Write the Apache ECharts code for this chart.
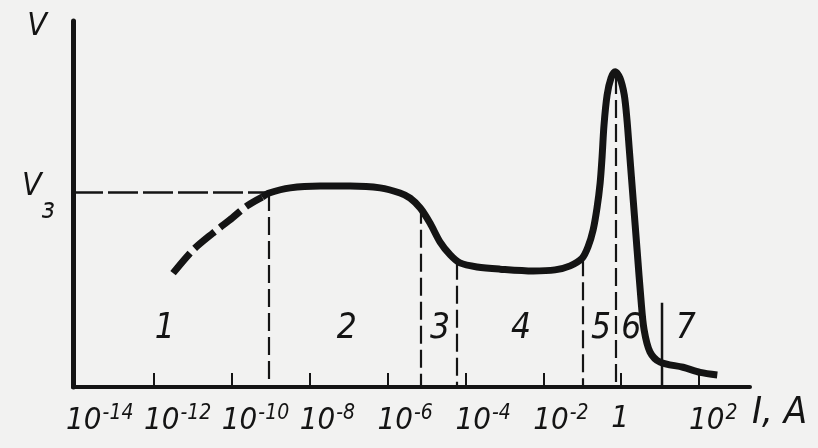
<!DOCTYPE html>
<html>
<head>
<meta charset="utf-8">
<script src="https://cdn.jsdelivr.net/npm/echarts@6/dist/echarts.min.js"></script>
<style>
html,body{margin:0;padding:0;background:#f2f2f1;}
#chart{width:818px;height:448px;}
</style>
</head>
<body>
<div id="chart"></div>
<script>
// x values are log10(I / A); y values are voltage in arbitrary units (0..100)
var xTickValues = [-12, -10, -8, -6, -4, -2, 0, 2];
var xLabelValues = [-14, -12, -10, -8, -6, -4, -2, 0, 2];
var vIgnition = 53.3;

// dashed (uncertain) low-current part of the curve
var curveDashedX = [-11.51, -11.00, -10.48, -9.99, -9.61, -9.22];
var curveDashedY = [31.1, 37.4, 42.1, 46.2, 49.5, 51.9];

// solid part of the curve
var curveX = [-9.22, -9.04, -8.50, -7.73, -6.96, -6.19, -5.68, -5.42, -5.16, -4.91, -4.65, -4.39, -4.14, -3.70, -3.11, -2.26, -1.70, -1.31, -1.00, -0.85, -0.72, -0.62, -0.54, -0.49, -0.44, -0.36, -0.26, -0.155, -0.03, 0.08, 0.15, 0.21, 0.31, 0.41, 0.51, 0.59, 0.74, 1.00, 1.59, 2.03, 2.47];
var curveY = [51.9, 53.0, 54.4, 54.9, 54.9, 54.4, 53.0, 51.6, 48.9, 44.8, 39.6, 36.1, 33.9, 32.8, 32.2, 31.7, 32.0, 33.1, 35.2, 38.3, 42.9, 48.9, 55.7, 62.8, 71.6, 79.8, 84.4, 86.1, 84.4, 79.8, 73.0, 64.8, 51.1, 37.4, 23.8, 15.6, 9.6, 6.8, 5.4, 4.0, 3.3];

// region boundaries (dashed), x and top value
var boundaryX = [-9.04, -5.14, -4.21, -0.98, -0.15];
var boundaryTop = [53.0, 49.5, 34.2, 35.2, 85.0];
// boundary of region 7 (solid short line)
var boundary7X = 1.05;
var boundary7Top = 23.0;

// region numbers
var regionNames = ['1', '2', '3', '4', '5', '6', '7'];
var regionX = [-11.72, -7.05, -4.65, -2.57, -0.52, 0.26, 1.66];
var regionY = [15.6, 15.6, 15.6, 15.6, 15.6, 15.6, 15.6];

var FONT = '"DejaVu Sans Condensed", "DejaVu Sans", sans-serif';
var INK = '#141414';

function zip(xs, ys) { return xs.map(function (x, i) { return [x, ys[i]]; }); }

var boundaryLines = boundaryX.map(function (x, i) {
  return [{ coord: [x, boundaryTop[i]] }, { coord: [x, 0] }];
});

var chart = echarts.init(document.getElementById('chart'));
chart.setOption({
  backgroundColor: '#f2f2f1',
  animation: false,
  grid: { left: 73, right: 68, top: 21, bottom: 61 },
  xAxis: {
    type: 'value', min: -14.08, max: 3.31,
    name: 'I, A', nameLocation: 'end', nameGap: 2,
    nameTextStyle: { fontFamily: FONT, fontStyle: 'italic', fontSize: 38, color: INK, align: 'left', verticalAlign: 'top', padding: [7, 0, 0, 0] },
    axisLine: { onZero: false, lineStyle: { color: INK, width: 4 } },
    axisTick: { show: true, inside: true, length: 14, customValues: xTickValues, lineStyle: { color: INK, width: 2 } },
    splitLine: { show: false },
    axisLabel: {
      customValues: xLabelValues, margin: 16, color: INK,
      showMinLabel: true, showMaxLabel: true, hideOverlap: false,
      align: 'left', padding: [0, 0, 0, -10],
      formatter: function (v) {
        var n = Math.round(v);
        if (n === 0) return '{b|1}';
        return '{b|10}{s|' + (n < 0 ? '-' + (-n) : n) + '}';
      },
      rich: {
        b: { fontFamily: FONT, fontStyle: 'italic', fontSize: 31, color: INK },
        s: { fontFamily: FONT, fontStyle: 'italic', fontSize: 21, color: INK, verticalAlign: 'top', padding: [0, 0, 14, 1] }
      }
    }
  },
  yAxis: {
    type: 'value', min: 0, max: 100,
    name: 'V', nameLocation: 'end', nameGap: -6,
    nameTextStyle: { fontFamily: FONT, fontStyle: 'italic', fontSize: 32, color: INK, align: 'right', verticalAlign: 'middle', padding: [0, 26, 0, 0] },
    axisLine: { show: true, onZero: false, lineStyle: { color: INK, width: 5 } },
    axisTick: { show: false },
    splitLine: { show: false },
    axisLabel: {
      customValues: [vIgnition], margin: 18, color: INK,
      formatter: function () { return '{v|V}{s|з}'; },
      rich: {
        v: { fontFamily: FONT, fontStyle: 'italic', fontSize: 32, color: INK, verticalAlign: 'top', padding: [11, 0, 0, 0] },
        s: { fontFamily: FONT, fontStyle: 'italic', fontSize: 28, color: INK, verticalAlign: 'bottom', padding: [37, 0, 0, 0] }
      }
    }
  },
  series: [
    {
      type: 'line', data: zip(curveDashedX, curveDashedY), smooth: 0.3, symbol: 'none',
      lineStyle: { color: INK, width: 7, type: [26, 7] }
    },
    {
      type: 'line', data: zip(curveX, curveY), smooth: 0.3, symbol: 'none',
      lineStyle: { color: INK, width: 7 },
      markLine: {
        silent: true, symbol: 'none', label: { show: false },
        lineStyle: { color: INK, width: 2.2, type: [18, 6] },
        data: boundaryLines.concat([
          [{ coord: [-14.08, vIgnition], lineStyle: { type: [30, 5], width: 2.6 } }, { coord: [boundaryX[0], vIgnition] }]
        ])
      }
    },
    {
      type: 'line', data: [[boundary7X, boundary7Top], [boundary7X, 0]], symbol: 'none',
      lineStyle: { color: INK, width: 2.5 }
    },
    {
      type: 'scatter', symbolSize: 0.1, itemStyle: { color: INK, opacity: 0 },
      data: regionX.map(function (x, i) { return [x, regionY[i], regionNames[i]]; }),
      label: {
        show: true, position: 'top', distance: -17, color: INK, opacity: 1,
        fontFamily: FONT, fontStyle: 'italic', fontSize: 35,
        formatter: function (p) { return p.data[2]; }
      }
    }
  ]
});
</script>
</body>
</html>
